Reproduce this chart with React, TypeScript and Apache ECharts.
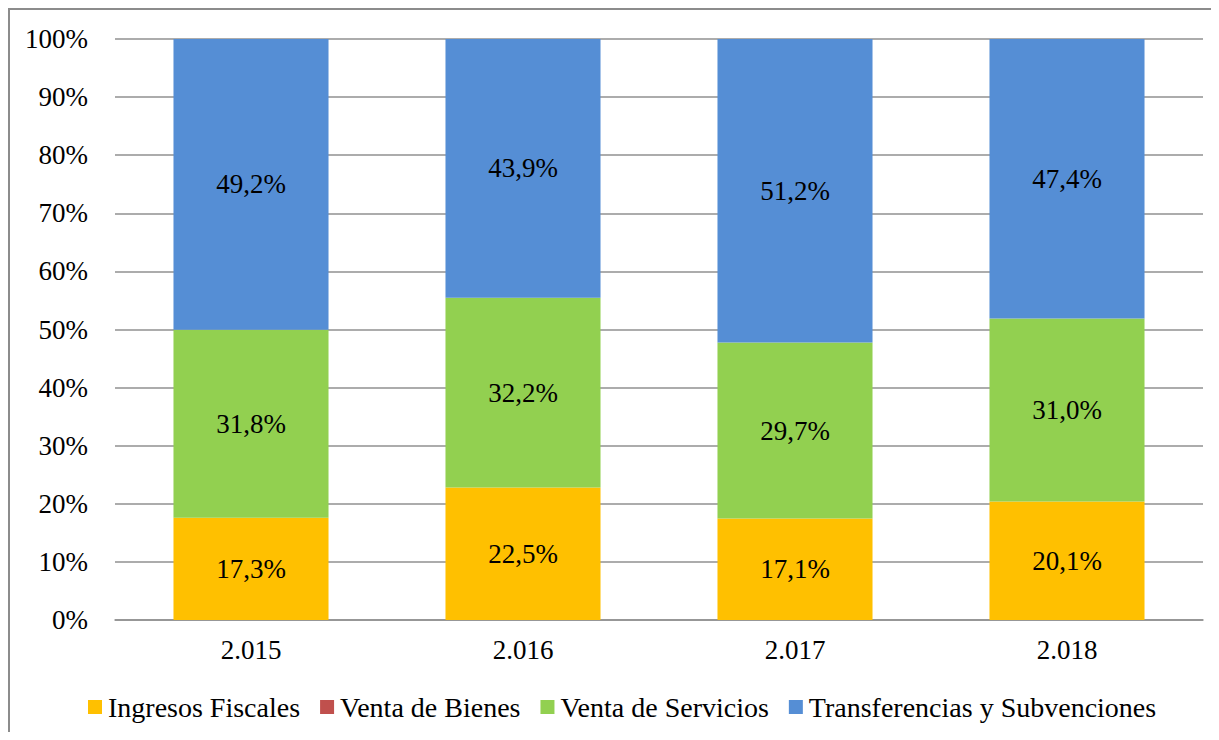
import React, { useEffect, useRef } from "react";
import * as echarts from "echarts";

const categories = ["2.015", "2.016", "2.017", "2.018"];
const ingresosFiscales = [17.3, 22.5, 17.1, 20.1];
const ventaBienes = [0, 0, 0, 0];
const ventaServicios = [31.8, 32.2, 29.7, 31.0];
const transferencias = [49.2, 43.9, 51.2, 47.4];
const yTicks = [0, 10, 20, 30, 40, 50, 60, 70, 80, 90, 100];

const seriesDefs = [
  { name: "Ingresos Fiscales", values: ingresosFiscales, color: "#FFC000" },
  { name: "Venta de Bienes", values: ventaBienes, color: "#C0504D" },
  { name: "Venta de Servicios", values: ventaServicios, color: "#92D050" },
  { name: "Transferencias y Subvenciones", values: transferencias, color: "#558ED5" },
];

const FONT = "Times New Roman, Liberation Serif, Tinos, DejaVu Serif, serif";

export default function App() {
  const ref = useRef<HTMLDivElement>(null);
  useEffect(() => {
    if (!ref.current) return;
    const chart = echarts.init(ref.current, null, { renderer: "svg" });
    const totals = categories.map((_, i) =>
      seriesDefs.reduce((s, d) => s + d.values[i], 0)
    );
    chart.setOption({
      animation: false,
      textStyle: { fontFamily: FONT },
      grid: { left: 105, right: 16, top: 29, bottom: 112 },
      legend: {
        left: 73,
        top: 678,
        itemWidth: 14,
        itemHeight: 14,
        itemGap: 20,
        icon: "rect",
        textStyle: { fontFamily: FONT, fontSize: 28, color: "#000", padding: [0, 0, 0, 1] },
        data: seriesDefs.map((d) => d.name),
      },
      xAxis: {
        type: "category",
        data: categories,
        axisTick: { show: false },
        axisLine: { lineStyle: { color: "#909090", width: 1.5 } },
        axisLabel: { fontFamily: FONT, fontSize: 27, color: "#000", margin: 16 },
      },
      yAxis: {
        type: "value",
        min: yTicks[0],
        max: yTicks[yTicks.length - 1],
        interval: 10,
        axisLine: { show: false },
        axisTick: { show: false },
        splitLine: { lineStyle: { color: "#909090", width: 1.5 } },
        axisLabel: {
          fontFamily: FONT,
          fontSize: 27,
          color: "#000",
          margin: 27,
          formatter: "{value}%",
        },
      },
      series: seriesDefs.map((d) => ({
        name: d.name,
        type: "bar",
        stack: "total",
        barWidth: "57%",
        itemStyle: { color: d.color },
        label: {
          show: true,
          position: "inside",
          fontFamily: FONT,
          fontSize: 27,
          color: "#000",
          formatter: (p: any) => {
            const raw = d.values[p.dataIndex];
            return raw > 0 ? raw.toFixed(1).replace(".", ",") + "%" : "";
          },
        },
        data: d.values.map((v, i) => (v / totals[i]) * 100),
      })),
    });
    return () => chart.dispose();
  }, []);
  return (
    <div
      style={{
        width: 1209,
        height: 722,
        borderLeft: "2px solid #8c8c8c",
        borderTop: "2px solid #8c8c8c",
      }}
    >
      <div ref={ref} style={{ width: 1209, height: 722 }} />
    </div>
  );
}
